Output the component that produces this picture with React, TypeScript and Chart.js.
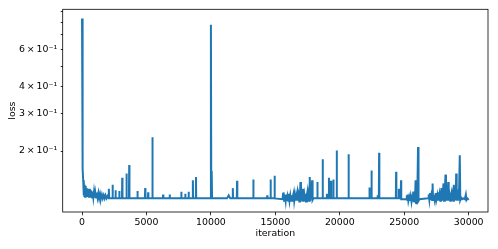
import React, { useEffect, useRef } from "react";
import { Chart, registerables } from "chart.js";

Chart.register(...registerables);

// [iteration, loss] readings from the reference picture, segment by segment
const warmup: [number, number][] = [
  [0, 0.834], [30, 0.3], [60, 0.165], [90, 0.146], [120, 0.124], [150, 0.141], [180, 0.123], [210, 0.139],
  [240, 0.122], [270, 0.137], [300, 0.122], [330, 0.134], [370, 0.122], [410, 0.133], [450, 0.122], [490, 0.132],
  [530, 0.121], [570, 0.133], [610, 0.121], [650, 0.131], [690, 0.121], [730, 0.13], [780, 0.121], [830, 0.129],
  [880, 0.121], [930, 0.129], [980, 0.121], [1030, 0.128], [1090, 0.121], [1150, 0.128], [1210, 0.121], [1270, 0.127],
  [1330, 0.12], [1400, 0.126], [1470, 0.12], [1540, 0.125], [1610, 0.12], [1680, 0.124], [1750, 0.12], [1820, 0.124],
  [1900, 0.12], [1980, 0.123], [2060, 0.12],
];

const early: [number, number][] = [
  [2070, 0.12], [2090, 0.133], [2110, 0.12], [2350, 0.12], [2370, 0.139], [2390, 0.12], [2580, 0.12], [2600, 0.131],
  [2620, 0.12], [2870, 0.12], [2890, 0.13], [2910, 0.12], [3100, 0.12], [3120, 0.15], [3140, 0.12], [3430, 0.12],
  [3450, 0.157], [3470, 0.12], [3640, 0.12], [3660, 0.172], [3680, 0.12], [4280, 0.12], [4300, 0.13], [4320, 0.12],
  [4880, 0.12], [4900, 0.134], [4920, 0.12], [5110, 0.12], [5130, 0.128], [5150, 0.12], [5440, 0.12], [5460, 0.232],
  [5480, 0.12], [6270, 0.12], [6290, 0.125], [6310, 0.12], [6780, 0.12], [6800, 0.125], [6820, 0.12], [7680, 0.12],
  [7700, 0.129], [7720, 0.12], [7990, 0.12], [8010, 0.126], [8030, 0.12], [8250, 0.12], [8270, 0.129], [8290, 0.12],
  [8580, 0.12], [8600, 0.146], [8620, 0.12], [8820, 0.12], [8840, 0.151], [8860, 0.12], [9980, 0.12], [10000, 0.78],
  [10030, 0.125], [10060, 0.161], [10090, 0.12], [11250, 0.12], [11380, 0.124], [11500, 0.12], [11680, 0.12],
  [11700, 0.134], [11720, 0.12], [12010, 0.12], [12030, 0.145], [12050, 0.12], [13270, 0.12], [13290, 0.147],
  [13310, 0.12], [14350, 0.12], [14370, 0.124], [14390, 0.12], [14610, 0.12], [14630, 0.147], [14650, 0.12],
  [14920, 0.12], [14940, 0.153], [14960, 0.12], [15560, 0.119],
];

const middleNoise: [number, number][] = [
  [15600, 0.126], [15640, 0.128], [15680, 0.117], [15740, 0.125], [15800, 0.117], [15840, 0.125], [15880, 0.117],
  [15940, 0.123], [16000, 0.117], [16050, 0.126], [16100, 0.117], [16160, 0.124], [16220, 0.117], [16250, 0.124],
  [16300, 0.117], [16360, 0.123], [16430, 0.128], [16470, 0.117], [16530, 0.124], [16590, 0.117], [16650, 0.125],
  [16700, 0.129], [16740, 0.117], [16800, 0.124], [16860, 0.116], [16910, 0.126], [16950, 0.143], [16990, 0.117],
  [17040, 0.125], [17100, 0.116], [17150, 0.133], [17190, 0.116], [17250, 0.124], [17300, 0.116], [17330, 0.126],
  [17380, 0.116], [17440, 0.124], [17490, 0.129], [17530, 0.116], [17590, 0.125], [17640, 0.117], [17670, 0.151],
  [17710, 0.117], [17780, 0.125], [17850, 0.146], [17890, 0.118], [17950, 0.12],
];

const late: [number, number][] = [
  [18240, 0.12], [18260, 0.143], [18280, 0.12], [18650, 0.12], [18670, 0.183], [18690, 0.12], [18980, 0.12],
  [19000, 0.126], [19020, 0.12], [19140, 0.12], [19160, 0.15], [19180, 0.12], [19300, 0.12], [19320, 0.145],
  [19340, 0.12], [19480, 0.12], [19500, 0.147], [19520, 0.12], [19740, 0.12], [19760, 0.201], [19780, 0.12],
  [20660, 0.12], [20680, 0.193], [20700, 0.12], [22280, 0.12], [22300, 0.135], [22320, 0.121], [22440, 0.12],
  [22460, 0.162], [22480, 0.12], [22910, 0.12], [22930, 0.124], [22950, 0.12], [23030, 0.12], [23050, 0.196],
  [23070, 0.12], [24350, 0.12], [24370, 0.16], [24390, 0.12], [24560, 0.12], [24580, 0.133], [24600, 0.12],
  [24730, 0.12], [24750, 0.146], [24770, 0.119], [25150, 0.119],
];

const dip: [number, number][] = [
  [25200, 0.124], [25250, 0.118], [25270, 0.125], [25320, 0.117], [25380, 0.122], [25440, 0.117], [25500, 0.123],
  [25560, 0.116], [25620, 0.125], [25660, 0.116], [25700, 0.129], [25740, 0.115], [25790, 0.127], [25830, 0.115],
  [25880, 0.146], [25920, 0.114], [25960, 0.135], [25990, 0.1138], [26030, 0.14], [26070, 0.209], [26110, 0.117],
  [26180, 0.119], [26850, 0.12],
];

const endNoise: [number, number][] = [
  [26900, 0.125], [26950, 0.118], [27000, 0.127], [27040, 0.118], [27100, 0.124], [27160, 0.118], [27200, 0.141],
  [27240, 0.118], [27300, 0.124], [27360, 0.118], [27420, 0.125], [27450, 0.127], [27490, 0.118], [27560, 0.124],
  [27600, 0.117], [27640, 0.128], [27680, 0.117], [27740, 0.125], [27800, 0.117], [27850, 0.126], [27890, 0.134],
  [27930, 0.117], [27990, 0.127], [28050, 0.141], [28090, 0.117], [28150, 0.127], [28200, 0.155], [28240, 0.117],
  [28300, 0.126], [28360, 0.117], [28410, 0.143], [28450, 0.117], [28510, 0.125], [28570, 0.117], [28620, 0.124],
  [28660, 0.127], [28700, 0.117], [28760, 0.125], [28810, 0.117], [28850, 0.139], [28890, 0.117], [28950, 0.126],
  [29000, 0.118], [29030, 0.157], [29070, 0.117], [29130, 0.124], [29200, 0.129], [29240, 0.117], [29310, 0.191],
  [29350, 0.118], [29420, 0.121], [29500, 0.119], [29600, 0.12], [29700, 0.119], [29780, 0.125], [29830, 0.118],
  [29900, 0.12], [30000, 0.118],
];

const xTickValues: number[] = [0, 5000, 10000, 15000, 20000, 25000, 30000];
const yTickValues: number[] = [0.2, 0.3, 0.4, 0.5, 0.6, 0.7, 0.8, 0.9];
const yTickLabels: Record<string, string> = {
  "0.2": "2\u2009×\u200910⁻¹",
  "0.3": "3\u2009×\u200910⁻¹",
  "0.4": "4\u2009×\u200910⁻¹",
  "0.6": "6\u2009×\u200910⁻¹",
};

const FONT = { family: "'DejaVu Sans'", size: 9.4 };

const framePlugin = {
  id: "frame",
  afterDraw(chart: any) {
    const { ctx, chartArea } = chart;
    ctx.save();
    ctx.strokeStyle = "#000";
    ctx.lineWidth = 0.8;
    ctx.strokeRect(chartArea.left, chartArea.top, chartArea.right - chartArea.left, chartArea.bottom - chartArea.top);
    ctx.restore();
  },
};

export default function App() {
  const ref = useRef<HTMLCanvasElement | null>(null);
  useEffect(() => {
    document.body.style.margin = "0";
    const canvas = ref.current;
    if (!canvas) return;
    const points = [...warmup, ...early, ...middleNoise, ...late, ...dip, ...endNoise].map(([x, y]) => ({ x, y }));
    const chart = new Chart(canvas, {
      type: "line",
      data: {
        datasets: [
          {
            data: points,
            borderColor: "#1f77b4",
            borderWidth: 2,
            pointRadius: 0,
            tension: 0,
            fill: false,
          },
        ],
      },
      options: {
        animation: false,
        responsive: false,
        devicePixelRatio: 1,
        layout: { padding: { top: 9.3, right: 10, left: 0, bottom: 0 } },
        plugins: { legend: { display: false }, tooltip: { enabled: false } },
        scales: {
          x: {
            type: "linear",
            min: -1500,
            max: 31500,
            afterBuildTicks: (scale: any) => {
              scale.ticks = xTickValues.map((v) => ({ value: v }));
            },
            afterFit: (scale: any) => {
              scale.height = 37;
            },
            grid: { display: true, drawOnChartArea: false, drawTicks: true, tickLength: 3.3, color: "#000", lineWidth: 0.8 },
            border: { display: false },
            ticks: { color: "#000", font: FONT, padding: 2, maxRotation: 0, autoSkip: false, callback: (v: any) => String(v) },
            title: { display: true, text: "iteration", color: "#000", font: FONT, padding: { top: 0, bottom: 9.5 } },
          },
          y: {
            type: "logarithmic",
            min: 0.1036,
            max: 0.922,
            afterBuildTicks: (scale: any) => {
              scale.ticks = yTickValues.map((v) => ({ value: v }));
            },
            afterFit: (scale: any) => {
              scale.width = 62.7;
            },
            grid: { display: true, drawOnChartArea: false, drawTicks: true, tickLength: 2, color: "#000", lineWidth: 0.8 },
            border: { display: false },
            ticks: {
              color: "#000",
              font: FONT,
              padding: 3.5,
              autoSkip: false,
              callback: (v: any) => yTickLabels[String(Math.round(Number(v) * 10) / 10)] ?? "",
            },
            title: { display: true, text: "loss", color: "#000", font: FONT, padding: { top: 7.4, bottom: 0 } },
          },
        },
      },
      plugins: [framePlugin],
    });
    return () => chart.destroy();
  }, []);
  return (
    <div style={{ width: 498, height: 249 }}>
      <canvas ref={ref} width={498} height={249} style={{ display: "block" }} />
    </div>
  );
}
